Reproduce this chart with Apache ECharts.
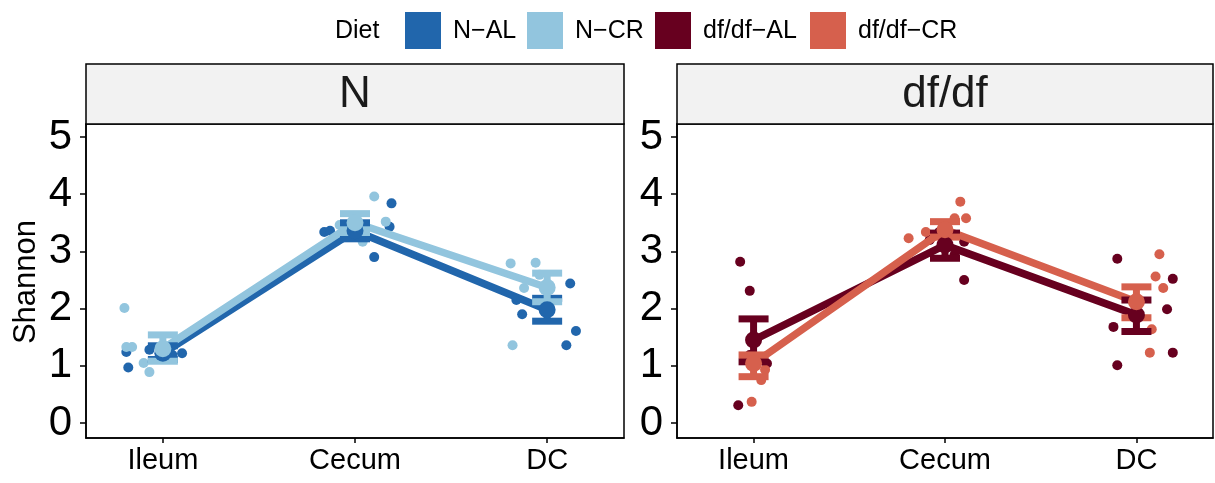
<!DOCTYPE html>
<html>
<head>
<meta charset="utf-8">
<script src="https://cdn.jsdelivr.net/npm/echarts@6/dist/echarts.min.js"></script>
<style>html,body{margin:0;padding:0;background:#fff}#c{width:1215px;height:483px}</style>
</head>
<body>
<div id="c"></div>
<script>
// ---------------- DATA ----------------
const categories = ['Ileum', 'Cecum', 'DC'];
const yTicks = [0, 1, 2, 3, 4, 5];
const panels = ['N', 'df/df'];
const diets = ['N\u2212AL', 'N\u2212CR', 'df/df\u2212AL', 'df/df\u2212CR'];

// group means and error-bar bounds (Ileum, Cecum, DC)
const meanN_AL = [1.22, 3.36, 1.98];
const loN_AL   = [1.11, 3.22, 1.78];
const hiN_AL   = [1.35, 3.50, 2.18];
const meanN_CR = [1.30, 3.50, 2.37];
const loN_CR   = [1.08, 3.33, 2.12];
const hiN_CR   = [1.54, 3.66, 2.62];
const meanD_AL = [1.45, 3.11, 1.89];
const loD_AL   = [1.07, 2.88, 1.60];
const hiD_AL   = [1.82, 3.32, 2.15];
const meanD_CR = [1.04, 3.38, 2.12];
const loD_CR   = [0.81, 3.25, 1.84];
const hiD_CR   = [1.19, 3.52, 2.38];

// individual animals (values per site) and their horizontal jitter
const ptsN_AL = [[1.24, 0.97, 1.28, 1.19, 1.22], [3.34, 3.36, 3.84, 3.43, 2.90], [2.44, 1.90, 1.61, 1.36, 2.15, 2.06]];
const jitN_AL = [[-0.19, -0.18, -0.07, 0.05, 0.10], [-0.16, -0.13, 0.19, 0.18, 0.10], [0.12, -0.13, 0.15, 0.10, -0.16, 0.00]];
const ptsN_CR = [[2.01, 1.33, 1.33, 1.05, 0.89], [3.96, 3.17, 3.46, 3.52, 3.35], [2.79, 2.80, 1.36, 2.36, 2.59]];
const jitN_CR = [[-0.20, -0.19, -0.16, -0.10, -0.07], [0.10, 0.04, -0.08, 0.16, -0.03], [-0.19, -0.06, -0.18, -0.12, -0.04]];
const ptsD_AL = [[2.82, 2.31, 0.31, 1.04, 1.19], [3.17, 2.50, 3.20, 2.94, 3.34], [2.87, 2.52, 1.99, 1.68, 1.23, 1.01]];
const jitD_AL = [[-0.07, -0.02, -0.08, 0.07, -0.02], [0.10, 0.10, -0.08, 0.05, -0.03], [-0.10, 0.19, 0.16, -0.12, 0.19, -0.10]];
const ptsD_CR = [[0.37, 0.75, 1.10, 0.93, 1.45], [3.87, 3.58, 3.23, 3.58, 3.34], [2.95, 2.56, 2.36, 1.64, 1.23]];
const jitD_CR = [[-0.01, 0.04, -0.05, 0.06, 0.01], [0.08, 0.11, -0.19, 0.05, -0.10], [0.12, 0.10, 0.14, 0.08, 0.07]];

// ---------------- STYLE ----------------
const colors = ['#2166AC', '#92C5DE', '#67001F', '#D6604D'];
const FONT = '"Liberation Sans", Arial, Helvetica, sans-serif';

const groups = [
  {name: diets[0], panel: 0, mean: meanN_AL, lo: loN_AL, hi: hiN_AL, pts: ptsN_AL, jit: jitN_AL, color: colors[0]},
  {name: diets[1], panel: 0, mean: meanN_CR, lo: loN_CR, hi: hiN_CR, pts: ptsN_CR, jit: jitN_CR, color: colors[1]},
  {name: diets[2], panel: 1, mean: meanD_AL, lo: loD_AL, hi: hiD_AL, pts: ptsD_AL, jit: jitD_AL, color: colors[2]},
  {name: diets[3], panel: 1, mean: meanD_CR, lo: loD_CR, hi: hiD_CR, pts: ptsD_CR, jit: jitD_CR, color: colors[3]}
];

const gridDefs = [
  {left: 86, top: 124, width: 538, height: 314},
  {left: 677, top: 124, width: 536, height: 314}
];

const series = [];
// layer 1: jittered points
groups.forEach(g => {
  const data = [];
  g.pts.forEach((arr, si) => arr.forEach((v, k) => data.push([si + 1 + g.jit[si][k], v])));
  series.push({type: 'scatter', name: g.name, xAxisIndex: g.panel, yAxisIndex: g.panel,
    data, symbolSize: 10, itemStyle: {color: g.color, opacity: 1}, z: 1, silent: true});
});
// layer 2: mean lines
groups.forEach(g => {
  series.push({type: 'line', name: g.name, xAxisIndex: g.panel, yAxisIndex: g.panel,
    data: g.mean.map((m, i) => [i + 1, m]), showSymbol: false,
    lineStyle: {color: g.color, width: 7.5}, itemStyle: {color: g.color}, z: 2, silent: true});
});
// layer 3: error bars
groups.forEach(g => {
  series.push({type: 'custom', name: g.name, xAxisIndex: g.panel, yAxisIndex: g.panel,
    data: g.mean.map((m, i) => [i + 1, g.lo[i], g.hi[i]]),
    encode: {x: 0, y: [1, 2]}, z: 3, silent: true,
    renderItem: function (params, api) {
      const x = api.value(0);
      const pLo = api.coord([x, api.value(1)]);
      const pHi = api.coord([x, api.value(2)]);
      const hw = 15;
      const st = {stroke: g.color, lineWidth: 7};
      return {type: 'group', children: [
        {type: 'line', shape: {x1: pLo[0], y1: pLo[1], x2: pHi[0], y2: pHi[1]}, style: st},
        {type: 'line', shape: {x1: pLo[0] - hw, y1: pLo[1], x2: pLo[0] + hw, y2: pLo[1]}, style: st},
        {type: 'line', shape: {x1: pHi[0] - hw, y1: pHi[1], x2: pHi[0] + hw, y2: pHi[1]}, style: st}
      ]};
    }});
});
// layer 4: mean points
groups.forEach(g => {
  series.push({type: 'scatter', name: g.name, xAxisIndex: g.panel, yAxisIndex: g.panel,
    data: g.mean.map((m, i) => [i + 1, m]), symbolSize: 17,
    itemStyle: {color: g.color, opacity: 1}, z: 4, silent: true});
});

const xAxes = gridDefs.map((gd, i) => ({
  type: 'value', gridIndex: i, min: 0.6, max: 3.4,
  axisLine: {show: true, onZero: false, lineStyle: {color: '#000', width: 1.5}},
  axisTick: {show: true, customValues: [1, 2, 3], length: 5, lineStyle: {color: '#000', width: 1.5}},
  axisLabel: {customValues: [1, 2, 3], formatter: v => categories[Math.round(v) - 1] || '',
    color: '#000', fontSize: 29, fontFamily: FONT, margin: 8},
  splitLine: {show: false}
}));
const yAxes = gridDefs.map((gd, i) => ({
  type: 'value', gridIndex: i, min: -0.262, max: 5.227,
  axisLine: {show: true, onZero: false, lineStyle: {color: '#000', width: 1.5}},
  axisTick: {show: true, customValues: yTicks, length: 6, lineStyle: {color: '#000', width: 1.5}},
  axisLabel: {customValues: yTicks, color: '#000', fontSize: 42, fontFamily: FONT, margin: 14},
  splitLine: {show: false}
}));

const graphic = [];
// facet strips
gridDefs.forEach((gd, i) => {
  graphic.push({type: 'rect', shape: {x: gd.left, y: 64, width: gd.width, height: 60},
    style: {fill: '#F2F2F2', stroke: '#000', lineWidth: 1.5}, z: 10});
  graphic.push({type: 'text', x: gd.left + gd.width / 2, y: 95,
    style: {text: panels[i], font: '44px ' + FONT, fill: '#1a1a1a', align: 'center', verticalAlign: 'middle'}, z: 11});
});
// y-axis title
graphic.push({type: 'text', x: 26, y: 282, rotation: Math.PI / 2,
  style: {text: 'Shannon', font: '31px ' + FONT, fill: '#000', align: 'center', verticalAlign: 'middle'}, z: 11});
// legend
const legendTitle = 'Diet';
graphic.push({type: 'text', x: 335, y: 31,
  style: {text: legendTitle, font: '25px ' + FONT, fill: '#000', align: 'left', verticalAlign: 'middle'}, z: 11});
const keyX = [405, 527, 655, 810];
diets.forEach((d, i) => {
  graphic.push({type: 'rect', shape: {x: keyX[i], y: 12, width: 36, height: 37},
    style: {fill: colors[i]}, z: 11});
  graphic.push({type: 'text', x: keyX[i] + 48, y: 31,
    style: {text: d, font: '25px ' + FONT, fill: '#000', align: 'left', verticalAlign: 'middle'}, z: 11});
});

const chart = echarts.init(document.getElementById('c'), null, {renderer: 'canvas'});
chart.setOption({
  animation: false,
  backgroundColor: '#fff',
  grid: gridDefs.map(gd => Object.assign({show: true, borderColor: '#000', borderWidth: 1.5, backgroundColor: '#fff'}, gd)),
  xAxis: xAxes,
  yAxis: yAxes,
  series,
  graphic
});
</script>
</body>
</html>
